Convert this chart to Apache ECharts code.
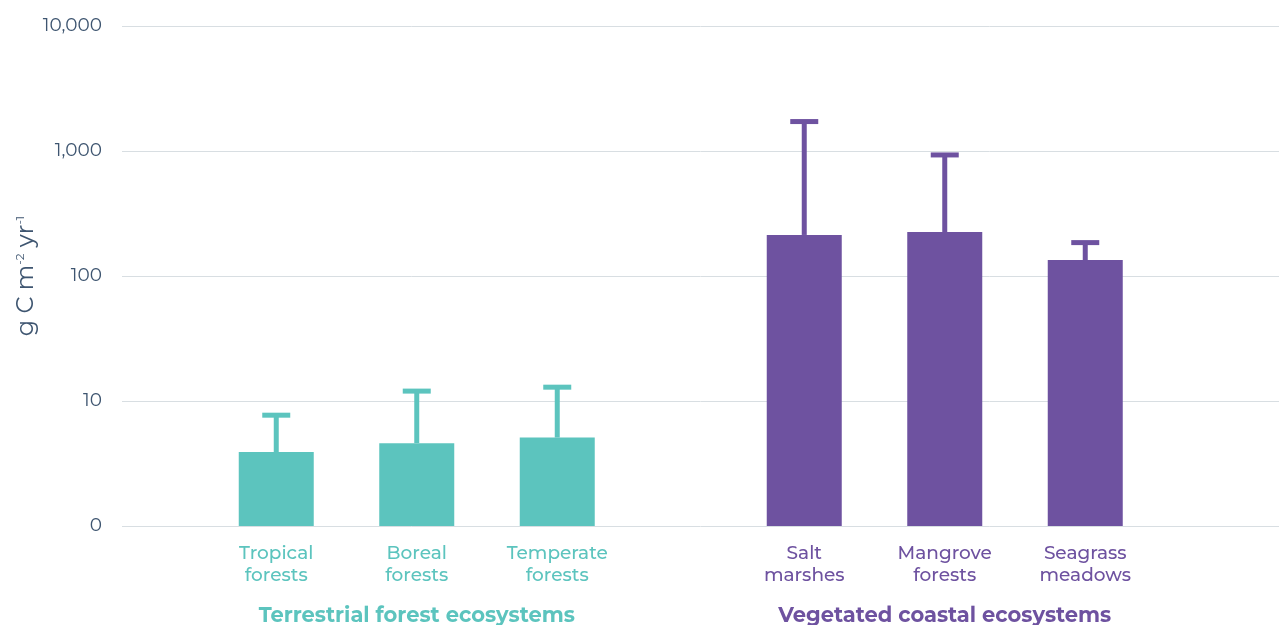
<!DOCTYPE html>
<html>
<head>
<meta charset="utf-8">
<script src="https://cdn.jsdelivr.net/npm/echarts@6/dist/echarts.min.js"></script>
<style>html,body{margin:0;padding:0;background:#fff}#c{width:1279px;height:625px}</style>
</head>
<body>
<div id="c"></div>
<script>
const yTicks = [1, 10, 100, 1000, 10000];
const terrCats = ['Tropical\nforests', 'Boreal\nforests', 'Temperate\nforests'];
const terrVals = [3.9, 4.6, 5.1];
const terrErr = [7.7, 12, 12.9];
const coastCats = ['Salt\nmarshes', 'Mangrove\nforests', 'Seagrass\nmeadows'];
const coastVals = [213, 225, 134];
const coastErr = [1720, 930, 185];
const groupNames = ['Terrestrial forest ecosystems', 'Vegetated coastal ecosystems'];

const TEAL = '#5cc4be';
const PURPLE = '#6e52a0';
const TXT = '#3e5570';
const GRID = '#d8dee2';
const FONT = 'Montserrat, Lato, "Noto Sans", sans-serif';

function errSeries(idx, vals, errs, color) {
  return {
    type: 'custom', xAxisIndex: idx, yAxisIndex: idx, z: 1,
    data: vals.map((v, i) => [i, v, errs[i]]),
    renderItem: function (params, api) {
      const lo = api.coord([api.value(0), api.value(1)]);
      const hi = api.coord([api.value(0), api.value(2)]);
      return {
        type: 'group',
        children: [
          { type: 'rect', shape: { x: lo[0] - 2.5, y: hi[1], width: 5, height: lo[1] - hi[1] }, style: { fill: color } },
          { type: 'rect', shape: { x: hi[0] - 14, y: hi[1] - 2.5, width: 28, height: 5 }, style: { fill: color } }
        ]
      };
    }
  };
}

function catAxis(idx, cats, color, name) {
  return {
    type: 'category', gridIndex: idx, data: cats,
    axisLine: { show: false }, axisTick: { show: false },
    axisLabel: { color: color, fontSize: 18.5, fontWeight: 500, lineHeight: 22, margin: 17, fontFamily: FONT, interval: 0 },
    name: name, nameLocation: 'middle', nameGap: 79, nameMoveOverlap: false,
    nameTextStyle: { color: color, fontSize: 21, fontWeight: 'bold', fontFamily: FONT }
  };
}

function hiddenY(idx) {
  return {
    type: 'log', gridIndex: idx, min: 1, max: 10000, logBase: 10,
    axisLine: { show: false }, axisTick: { show: false }, axisLabel: { show: false }, splitLine: { show: false }
  };
}

const chart = echarts.init(document.getElementById('c'));
chart.setOption({
  animation: false,
  grid: [
    { left: 122, right: 0, top: 26, bottom: 99, outerBoundsMode: 'none' },
    { left: 206, width: 421.5, top: 26, bottom: 99, outerBoundsMode: 'none' },
    { left: 734, width: 421.5, top: 26, bottom: 99, outerBoundsMode: 'none' }
  ],
  xAxis: [
    { type: 'category', gridIndex: 0, data: [''], show: false },
    catAxis(1, terrCats, TEAL, groupNames[0]),
    catAxis(2, coastCats, PURPLE, groupNames[1])
  ],
  yAxis: [
    {
      type: 'log', gridIndex: 0, min: yTicks[0], max: yTicks[yTicks.length - 1], logBase: 10,
      axisLine: { show: false }, axisTick: { show: false },
      splitLine: { show: true, lineStyle: { color: GRID, width: 1 } },
      axisLabel: {
        color: TXT, fontSize: 18.5, fontFamily: FONT, margin: 20,
        formatter: function (v) { return v === 1 ? '0' : v.toLocaleString('en-US'); }
      },
      name: '{m|g C m}{s|-2}{m| yr}{s|-1}',
      nameLocation: 'middle', nameGap: 84, nameMoveOverlap: false,
      nameTextStyle: {
        rich: {
          m: { color: TXT, fontSize: 24, fontFamily: FONT },
          s: { color: TXT, fontSize: 12, fontFamily: FONT, verticalAlign: 'top' }
        }
      }
    },
    hiddenY(1), hiddenY(2)
  ],
  series: [
    { type: 'bar', xAxisIndex: 1, yAxisIndex: 1, data: terrVals, barWidth: 75, itemStyle: { color: TEAL }, z: 2 },
    errSeries(1, terrVals, terrErr, TEAL),
    { type: 'bar', xAxisIndex: 2, yAxisIndex: 2, data: coastVals, barWidth: 75, itemStyle: { color: PURPLE }, z: 2 },
    errSeries(2, coastVals, coastErr, PURPLE)
  ]
});
</script>
</body>
</html>
